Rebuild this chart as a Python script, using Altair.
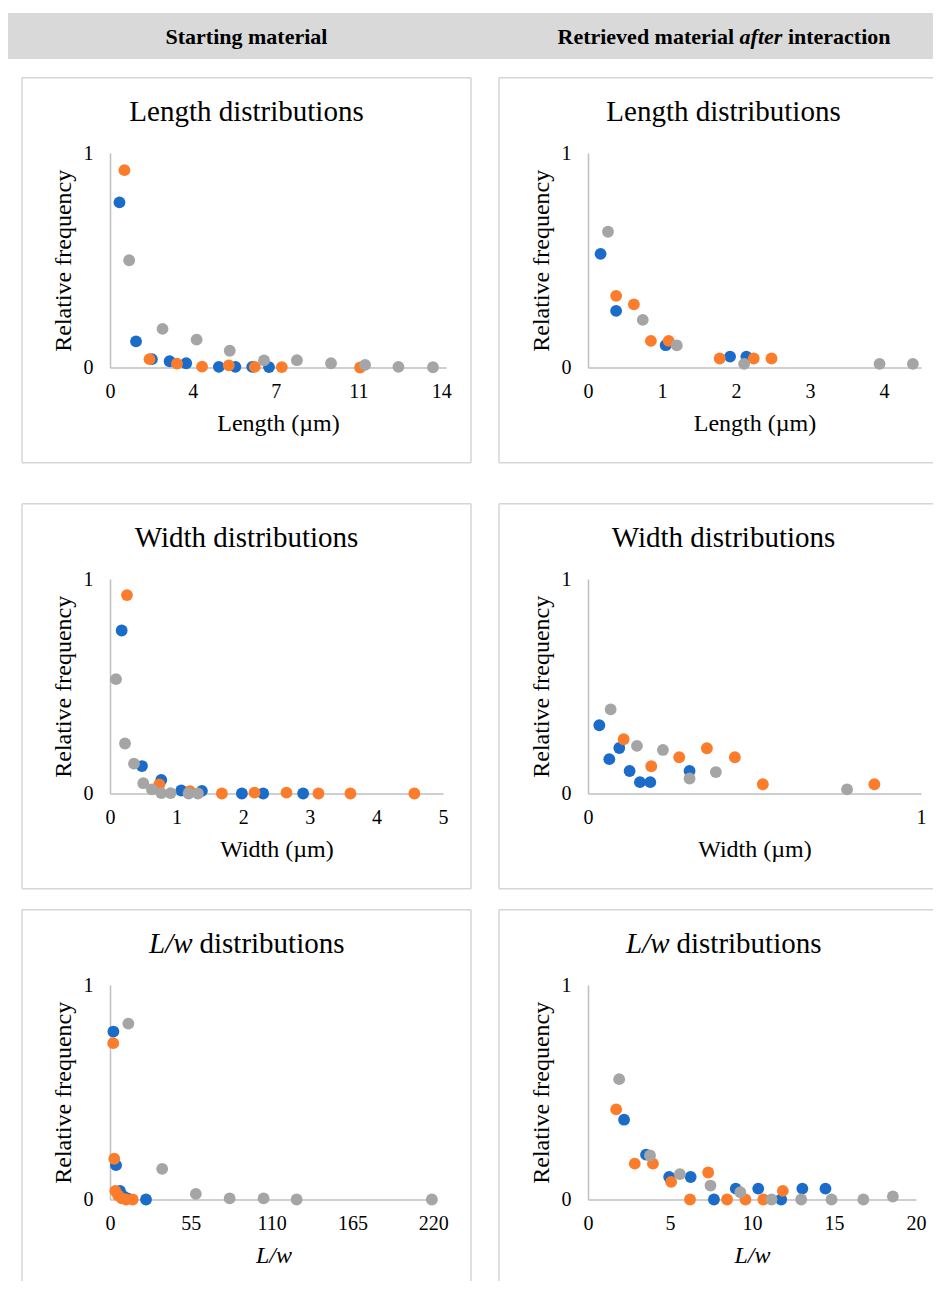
import altair as alt
import pandas as pd

FONT = "Liberation Serif"
SERIES = ["Series 1", "Series 2", "Series 3"]
COLORS = ["#1a6cc8", "#fb7d2b", "#a5a5a5"]

# ---------------- data ----------------
# Length distributions, starting material
len_start_x = [
    [0.40, 1.10, 1.77, 2.52, 3.22, 4.60, 5.30, 6.01, 6.72],
    [0.61, 1.67, 2.83, 3.89, 5.02, 6.12, 7.26, 10.57],
    [0.81, 2.22, 3.66, 5.06, 6.51, 7.90, 9.34, 10.78, 12.19, 13.65],
]
len_start_y = [
    [0.77, 0.122, 0.039, 0.029, 0.020, 0.003, 0.003, 0.003, 0.002],
    [0.92, 0.039, 0.018, 0.004, 0.010, 0.003, 0.002, 0.0],
    [0.50, 0.18, 0.13, 0.078, 0.033, 0.034, 0.020, 0.012, 0.003, 0.001],
]
# Length distributions, retrieved material
len_ret_x = [
    [0.17, 0.38, 1.05, 1.92, 2.14],
    [0.38, 0.62, 0.85, 1.09, 1.78, 2.24, 2.48],
    [0.27, 0.74, 1.20, 2.11, 3.94, 4.39],
]
len_ret_y = [
    [0.53, 0.264, 0.104, 0.051, 0.051],
    [0.334, 0.294, 0.124, 0.124, 0.042, 0.042, 0.042],
    [0.633, 0.222, 0.103, 0.017, 0.017, 0.017],
]
# Width distributions, starting material
wid_start_x = [
    [0.175, 0.48, 0.77, 1.07, 1.38, 1.98, 2.30, 2.90],
    [0.255, 0.74, 1.20, 1.68, 2.17, 2.65, 3.13, 3.61, 4.57],
    [0.09, 0.225, 0.36, 0.50, 0.63, 0.77, 0.91, 1.18, 1.32],
]
wid_start_y = [
    [0.76, 0.128, 0.063, 0.014, 0.012, 0.0, 0.0, 0.0],
    [0.925, 0.042, 0.011, 0.0, 0.004, 0.004, 0.0, 0.0, 0.0],
    [0.533, 0.233, 0.139, 0.048, 0.019, 0.002, 0.002, 0.0, 0.0],
]
# Width distributions, retrieved material
wid_ret_x = [
    [0.034, 0.064, 0.094, 0.125, 0.156, 0.187, 0.305],
    [0.107, 0.19, 0.274, 0.357, 0.441, 0.525, 0.86],
    [0.068, 0.147, 0.225, 0.305, 0.384, 0.778],
]
wid_ret_y = [
    [0.318, 0.16, 0.212, 0.105, 0.053, 0.053, 0.105],
    [0.253, 0.127, 0.169, 0.211, 0.169, 0.043, 0.043],
    [0.392, 0.222, 0.203, 0.07, 0.10, 0.019],
]
# L/w distributions, starting material
lw_start_x = [
    [2.3, 4.1, 6.8, 9.0, 12.0, 24.5],
    [2.2, 2.9, 3.6, 5.5, 8.0, 11.0, 15.4],
    [12.5, 35.5, 58.4, 81.4, 104.5, 127.0, 219.0],
]
lw_start_y = [
    [0.783, 0.16, 0.04, 0.015, 0.005, 0.0],
    [0.729, 0.19, 0.04, 0.02, 0.005, 0.0, 0.0],
    [0.82, 0.143, 0.026, 0.005, 0.005, 0.0, 0.0],
]
# L/w distributions, retrieved material
lw_ret_x = [
    [2.2, 3.54, 4.95, 6.26, 7.68, 9.01, 10.38, 11.78, 13.07, 14.48],
    [1.72, 2.85, 3.96, 5.07, 6.22, 7.33, 8.48, 9.6, 10.69, 11.88],
    [1.9, 3.78, 5.6, 7.47, 9.29, 11.19, 13.0, 14.85, 16.79, 18.59],
]
lw_ret_y = [
    [0.372, 0.209, 0.105, 0.105, 0.0, 0.051, 0.051, 0.0, 0.051, 0.051],
    [0.42, 0.167, 0.167, 0.082, 0.0, 0.126, 0.0, 0.0, 0.0, 0.04],
    [0.561, 0.205, 0.118, 0.065, 0.034, 0.0, 0.0, 0.0, 0.0, 0.014],
]

# axis settings
len_start_ticks = [0, 3.5, 7, 10.5, 14]
len_ret_ticks = [0, 1, 2, 3, 4]
wid_start_ticks = [0, 1, 2, 3, 4, 5]
wid_ret_ticks = [0, 1]
lw_start_ticks = [0, 55, 110, 165, 220]
lw_ret_ticks = [0, 5, 10, 15, 20]
y_ticks = [0, 1]

header_left = "Starting material"
header_right = ["Retrieved material", "after", "interaction"]

one = pd.DataFrame({"k": [0]})
BOX = "#d6d6d6"
PH = 214.5
LEFT0 = 110.0   # page x of the left plot origin
RIGHT0 = 588.0  # page x of the right plot origin
RIGHT_EDGE = 933.0


def scatter_df(xs, ys):
    rows = []
    for s, xl, yl in zip(SERIES, xs, ys):
        for x, y in zip(xl, yl):
            rows.append({"series": s, "x": x, "y": y})
    return pd.DataFrame(rows)


def hrule(x1, x2, y, color=BOX):
    return alt.Chart(one).mark_rule(color=color, strokeWidth=1.5).encode(
        x=alt.value(x1), x2=alt.value(x2), y=alt.value(y))


def vrule(x, y1, y2, color=BOX):
    return alt.Chart(one).mark_rule(color=color, strokeWidth=1.5).encode(
        x=alt.value(x), y=alt.value(y1), y2=alt.value(y2))


def text(t, x, y, size=29, style="normal", weight="normal", align="center"):
    return alt.Chart(one).mark_text(
        text=t, font=FONT, fontSize=size, fontStyle=style, fontWeight=weight,
        align=align, baseline="alphabetic", color="black").encode(
        x=alt.value(x), y=alt.value(y))


def panel(xs, ys, domain, ticks, fmt, xtitle, width, col, row, kind):
    df = scatter_df(xs, ys)
    x0 = LEFT0 if col == 0 else RIGHT0
    lrel = (22 if col == 0 else 499) - x0
    rrel = (471 if col == 0 else RIGHT_EDGE) - x0
    trel = -75.3
    brel = 309.7 if row < 2 else 296
    layers = [hrule(lrel, rrel, trel), vrule(lrel, trel, brel)]
    if row < 2:
        layers.append(hrule(lrel, rrel, brel))
    if col == 0:
        layers.append(vrule(rrel, trel, brel))
    points = alt.Chart(df).mark_circle(size=140, opacity=1).encode(
        x=alt.X("x:Q", scale=alt.Scale(domain=domain, nice=False, zero=True),
                axis=alt.Axis(values=ticks, format=fmt, title=xtitle,
                              titleFontStyle="italic" if kind == "lw" else "normal")),
        y=alt.Y("y:Q", scale=alt.Scale(domain=[0, 1], nice=False),
                axis=alt.Axis(values=y_ticks, format="d", title="Relative frequency")),
        color=alt.Color("series:N", scale=alt.Scale(domain=SERIES, range=COLORS),
                        legend=None),
    )
    layers.append(points)
    cx = (246.5 if col == 0 else 723.5) - x0
    if kind == "len":
        layers.append(text("Length distributions", cx, -32.3))
    elif kind == "wid":
        layers.append(text("Width distributions", cx, -32.3))
    else:
        start = cx - 97.5
        layers.append(text("L/w", start, -32.3, style="italic", align="left"))
        layers.append(text("distributions", start + 50.5, -32.3, align="left"))
    return alt.layer(*layers).properties(width=width, height=PH)


p1 = panel(len_start_x, len_start_y, [0, 14.2], len_start_ticks, ".0f", "Length (µm)", 336, 0, 0, "len")
p2 = panel(len_ret_x, len_ret_y, [0, 4.5], len_ret_ticks, "d", "Length (µm)", 333, 1, 0, "len")
p3 = panel(wid_start_x, wid_start_y, [0, 5], wid_start_ticks, "d", "Width (µm)", 333, 0, 1, "wid")
p4 = panel(wid_ret_x, wid_ret_y, [0, 1], wid_ret_ticks, "d", "Width (µm)", 333, 1, 1, "wid")
p5 = panel(lw_start_x, lw_start_y, [0, 222.5], lw_start_ticks, "d", "L/w", 327, 0, 2, "lw")
p6 = panel(lw_ret_x, lw_ret_y, [0, 20], lw_ret_ticks, "d", "L/w", 328, 1, 2, "lw")

# header bar (origin aligned with the left plot origin)
hdr_rect = alt.Chart(one).mark_rect(color="#d9d9d9").encode(
    x=alt.value(8 - LEFT0), x2=alt.value(RIGHT_EDGE - LEFT0), y=alt.value(0), y2=alt.value(46))
hdr = alt.layer(
    hdr_rect,
    text(header_left, 246.5 - LEFT0, 31, size=22, weight="bold"),
    text(header_right[0], 557.5 - LEFT0, 31, size=22, weight="bold", align="left"),
    text(header_right[1], 739.6 - LEFT0, 31, size=22, weight="bold", style="italic", align="left"),
    text(header_right[2], 787.9 - LEFT0, 31, size=22, weight="bold", align="left"),
).properties(width=330, height=46)

row1 = alt.hconcat(p1, p2, spacing=26)
row2 = alt.hconcat(p3, p4, spacing=26)
row3 = alt.hconcat(p5, p6, spacing=26)

chart = alt.vconcat(
    hdr,
    alt.vconcat(alt.vconcat(row1, row2, spacing=38), row3, spacing=18),
    spacing=17,
).properties(
    padding={"left": 0, "top": 5, "right": 0, "bottom": 0}
).configure_view(strokeWidth=0).configure_axis(
    labelFont=FONT, titleFont=FONT, labelFontSize=20, titleFontSize=24,
    titleFontWeight="normal", labelColor="black", titleColor="black",
    domainColor="#bfbfbf", domainWidth=1.5, ticks=False, tickSize=0,
    grid=False, labelFlush=False, labelOverlap=False,
).configure_axisX(labelPadding=14, titlePadding=10).configure_axisY(
    labelPadding=17, titlePadding=8)

chart.save("out.html", embed_options={"renderer": "svg", "actions": False})
